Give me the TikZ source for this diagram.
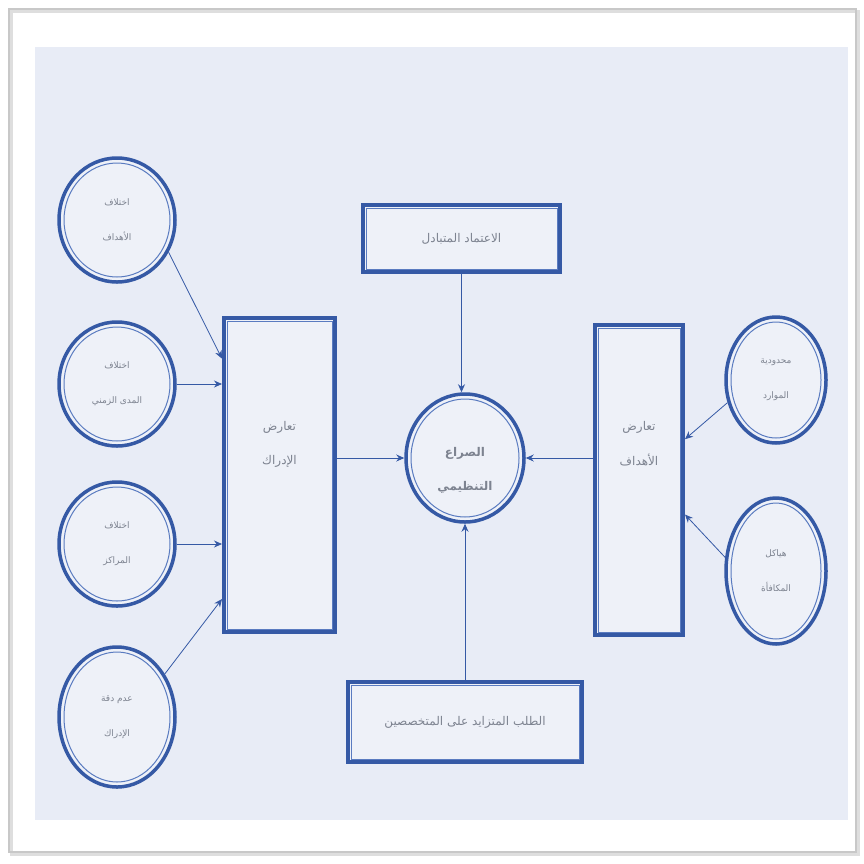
\documentclass[tikz,border=0pt]{standalone}
\usepackage{fontspec}
\newfontfamily\arabicfont[Script=Arabic]{DejaVu Sans}
\TeXXeTstate=1
\usetikzlibrary{shapes.geometric,arrows.meta,calc}
\definecolor{bdr}{HTML}{3559A5}
\definecolor{bdrlight}{HTML}{5A7BC0}
\definecolor{panelc}{HTML}{E8ECF6}
\definecolor{innerfill}{HTML}{EEF1F8}
\definecolor{txtc}{HTML}{7D8390}
\definecolor{framec}{HTML}{C8C8C8}
\newcommand{\artx}[1]{\beginR #1\endR}
\begin{document}
\begin{tikzpicture}[x=1pt,y=-1pt,
  circ/.style={ellipse,draw=bdr,line width=3.5pt,fill=innerfill,inner sep=0pt,
    text=txtc,font=\arabicfont\fontsize{9}{11}\selectfont,align=center},
  boxx/.style={rectangle,draw=bdr,line width=4pt,fill=innerfill,inner sep=0pt,
    text=txtc,font=\arabicfont\fontsize{11}{13}\selectfont,align=center},
  innerline/.style={draw=bdrlight,line width=1pt},
  lbl/.style={text=txtc,font=\arabicfont\fontsize{12}{14}\selectfont,align=center},
  arr/.style={draw=bdr,line width=0.8pt,-{Stealth[length=8pt,width=7pt]}}]
\useasboundingbox (0,0) rectangle (864,863);
\fill[white] (0,0) rectangle (864,863);
% page frame with soft shadow
\draw[framec!60,line width=3pt] (11,11) rectangle (858,854);
\draw[framec,line width=1.2pt] (9,9) rectangle (856,852);
% panel
\fill[panelc] (35,47) rectangle (848,820);

% left circles
\node[circ,minimum width=116pt,minimum height=124pt] (L1) at (117,220)
  {\artx{اختلاف}\\[24pt]\artx{الأهداف}};
\node[circ,minimum width=116pt,minimum height=124pt] (L2) at (117,384)
  {\artx{اختلاف}\\[24pt]\artx{المدى الزمني}};
\node[circ,minimum width=116pt,minimum height=124pt] (L3) at (117,544)
  {\artx{اختلاف}\\[24pt]\artx{المراكز}};
\node[circ,minimum width=116pt,minimum height=140pt] (L4) at (117,717)
  {\artx{عدم دقة}\\[24pt]\artx{الإدراك}};
\foreach \n/\h in {L1/57,L2/57,L3/57,L4/65}
  \draw[innerline] (\n.center) ellipse [x radius=53, y radius=\h];

% right circles
\node[circ,minimum width=100pt,minimum height=126pt] (R1) at (776,380)
  {\artx{محدودية}\\[24pt]\artx{الموارد}};
\node[circ,minimum width=100pt,minimum height=146pt] (R2) at (776,571)
  {\artx{هياكل}\\[24pt]\artx{المكافأة}};
\foreach \n/\h in {R1/58,R2/68}
  \draw[innerline] (\n.center) ellipse [x radius=45, y radius=\h];

% side boxes
\node[boxx,minimum width=111pt,minimum height=314pt] (LB) at (279.5,475) {};
\draw[innerline] ($(LB.north west)+(5,5)$) rectangle ($(LB.south east)+(-5,-5)$);
\node[lbl] (LBt) at (279.5,444) {\artx{تعارض}\\[20pt]\artx{الإدراك}};

\node[boxx,minimum width=88pt,minimum height=310pt] (RB) at (639,480) {};
\draw[innerline] ($(RB.north west)+(5,5)$) rectangle ($(RB.south east)+(-5,-5)$);
\node[lbl] (RBt) at (639,444) {\artx{تعارض}\\[20pt]\artx{الأهداف}};

% top and bottom boxes
\node[boxx,minimum width=197pt,minimum height=67pt,font=\arabicfont\fontsize{12}{14}\selectfont] (T) at (461.5,238.5) {\artx{الاعتماد المتبادل}};
\draw[innerline] ($(T.north west)+(5,5)$) rectangle ($(T.south east)+(-5,-5)$);
\node[boxx,minimum width=234pt,minimum height=80pt,font=\arabicfont\fontsize{12}{14}\selectfont] (B) at (465,722) {\artx{الطلب المتزايد على المتخصصين}};
\draw[innerline] ($(B.north west)+(5,5)$) rectangle ($(B.south east)+(-5,-5)$);

% center circle
\node[circ,minimum width=118pt,minimum height=128pt] (C) at (465,458) {};
\draw[innerline] (C.center) ellipse [x radius=54, y radius=59];
\node[lbl,font=\arabicfont\bfseries\fontsize{12}{14}\selectfont] (Ct) at (465,470)
  {\artx{الصراع}\\[20pt]\artx{التنظيمي}};

% connectors
\draw[arr] (L1.-32) -- ($(LB.north west)!0.134!(LB.south west)$);
\draw[arr] (L2.east) -- (L2.east -| LB.west);
\draw[arr] (L3.east) -- (L3.east -| LB.west);
\draw[arr] (L4.42) -- ($(LB.north west)!0.89!(LB.south west)$);
\draw[arr] (LB.east |- C.west) -- (C.west);
\draw[arr] (RB.west |- C.east) -- (C.east);
\draw[arr] (T.south) -- (T.south |- C.north);
\draw[arr] (B.north) -- (C.south);
\draw[arr] (R1.205) -- ($(RB.north east)!0.37!(RB.south east)$);
\draw[arr] (R2.165) -- ($(RB.north east)!0.61!(RB.south east)$);
\end{tikzpicture}
\end{document}
